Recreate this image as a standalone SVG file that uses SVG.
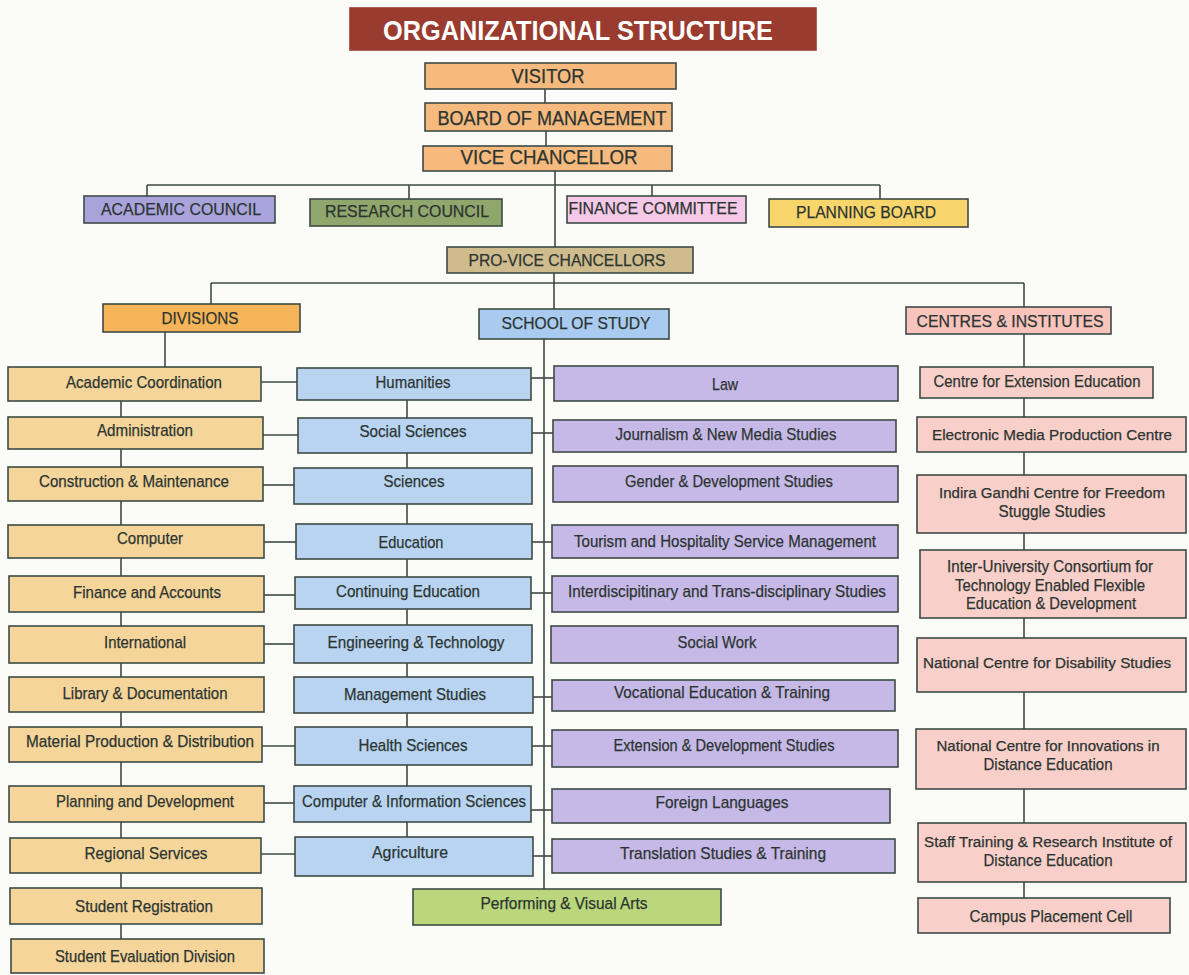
<svg xmlns="http://www.w3.org/2000/svg" width="1189" height="975" viewBox="0 0 1189 975">
<style>
.bg{fill:#fbfbf8}
rect{stroke:#3e4a45;stroke-width:1.6}
.title{fill:#9a3b30;stroke:#9a3b30}
.top{fill:#f6ba7e}
.ac{fill:#a9a3dc}
.rc{fill:#8fa66c}
.fc{fill:#f6c9e8}
.pb{fill:#f8d66c}
.pvc{fill:#cfbc8e}
.div{fill:#f7b458}
.sos{fill:#a9cbef}
.ci{fill:#f8c4bc}
.l{fill:#f5d59a}
.b{fill:#b8d4f1}
.p{fill:#c6b9e7}
.k{fill:#f9d0c9}
.g{fill:#bad77c}
text{font-family:"Liberation Sans",Arial,sans-serif;fill:#2c3431;text-anchor:middle;stroke:#2c3431;stroke-width:0.25}
.h{font-size:20px}
.s{font-size:17px}
.n{font-size:14px}
.t{font-size:28px;font-weight:bold;fill:#ffffff;stroke:none}
#connectors line{stroke:#3e4a45;stroke-width:1.6}
</style>
<rect class="bg" x="0" y="0" width="1189" height="975" style="stroke:none"/>
<g id="connectors">
<line x1="545" y1="89" x2="545" y2="103"/>
<line x1="546" y1="131" x2="546" y2="146"/>
<line x1="555" y1="171" x2="555" y2="247"/>
<line x1="147" y1="185" x2="880" y2="185"/>
<line x1="147" y1="185" x2="147" y2="196"/>
<line x1="409" y1="185" x2="409" y2="199"/>
<line x1="652" y1="185" x2="652" y2="196"/>
<line x1="880" y1="185" x2="880" y2="199"/>
<line x1="554" y1="273" x2="554" y2="309"/>
<line x1="211" y1="283" x2="1024" y2="283"/>
<line x1="211" y1="283" x2="211" y2="304"/>
<line x1="1024" y1="283" x2="1024" y2="307"/>
<line x1="165" y1="332" x2="165" y2="367"/>
<line x1="121" y1="401" x2="121" y2="939"/>
<line x1="407" y1="400" x2="407" y2="837"/>
<line x1="544" y1="339" x2="544" y2="889"/>
<line x1="1024" y1="334" x2="1024" y2="898"/>
<line x1="261" y1="382" x2="297" y2="382"/>
<line x1="263" y1="435" x2="298" y2="435"/>
<line x1="263" y1="485" x2="294" y2="485"/>
<line x1="264" y1="542" x2="296" y2="542"/>
<line x1="264" y1="595" x2="295" y2="595"/>
<line x1="264" y1="644" x2="294" y2="644"/>
<line x1="262" y1="746" x2="295" y2="746"/>
<line x1="264" y1="803" x2="294" y2="803"/>
<line x1="261" y1="854" x2="295" y2="854"/>
<line x1="531" y1="378" x2="554" y2="378"/>
<line x1="532" y1="433" x2="553" y2="433"/>
<line x1="532" y1="542" x2="552" y2="542"/>
<line x1="531" y1="593" x2="552" y2="593"/>
<line x1="533" y1="697" x2="552" y2="697"/>
<line x1="532" y1="746" x2="552" y2="746"/>
<line x1="531" y1="810" x2="552" y2="810"/>
<line x1="533" y1="856" x2="552" y2="856"/>
</g>
<g id="title"><rect class="title" x="350" y="8" width="466" height="42"/><text class="t" x="578" y="40" textLength="390" lengthAdjust="spacingAndGlyphs">ORGANIZATIONAL STRUCTURE</text></g>
<g id="visitor"><rect class="top" x="425" y="63" width="251" height="26"/><text class="h" x="548" y="83" textLength="73" lengthAdjust="spacingAndGlyphs">VISITOR</text></g>
<g id="board"><rect class="top" x="425" y="103" width="247" height="28"/><text class="h" x="552" y="125" textLength="229" lengthAdjust="spacingAndGlyphs">BOARD OF MANAGEMENT</text></g>
<g id="vc"><rect class="top" x="423" y="146" width="249" height="25"/><text class="h" x="549" y="164" textLength="177" lengthAdjust="spacingAndGlyphs">VICE  CHANCELLOR</text></g>
<g id="academic-council"><rect class="ac" x="84" y="196" width="191" height="27"/><text class="s" x="181" y="215" textLength="160" lengthAdjust="spacingAndGlyphs">ACADEMIC COUNCIL</text></g>
<g id="research-council"><rect class="rc" x="310" y="199" width="192" height="27"/><text class="s" x="407" y="217" textLength="164" lengthAdjust="spacingAndGlyphs">RESEARCH COUNCIL</text></g>
<g id="finance-committee"><rect class="fc" x="567" y="196" width="179" height="27"/><text class="s" x="653" y="214" textLength="169" lengthAdjust="spacingAndGlyphs">FINANCE  COMMITTEE</text></g>
<g id="planning-board"><rect class="pb" x="769" y="199" width="199" height="28"/><text class="s" x="866" y="218" textLength="140" lengthAdjust="spacingAndGlyphs">PLANNING BOARD</text></g>
<g id="pvc"><rect class="pvc" x="447" y="247" width="246" height="26"/><text class="s" x="567" y="266" textLength="197" lengthAdjust="spacingAndGlyphs">PRO-VICE CHANCELLORS</text></g>
<g id="divisions"><rect class="div" x="103" y="304" width="197" height="28"/><text class="s" x="200" y="324" textLength="77" lengthAdjust="spacingAndGlyphs">DIVISIONS</text></g>
<g id="school"><rect class="sos" x="479" y="309" width="190" height="30"/><text class="s" x="576" y="329" textLength="149" lengthAdjust="spacingAndGlyphs">SCHOOL OF STUDY</text></g>
<g id="centres"><rect class="ci" x="906" y="307" width="205" height="27"/><text class="s" x="1010" y="327" textLength="187" lengthAdjust="spacingAndGlyphs">CENTRES &amp; INSTITUTES</text></g>

<g id="d1"><rect class="l" x="8" y="367" width="253" height="34"/><text class="s" x="144" y="388" textLength="156" lengthAdjust="spacingAndGlyphs">Academic Coordination</text></g>
<g id="d2"><rect class="l" x="8" y="417" width="255" height="32"/><text class="s" x="145" y="436" textLength="96" lengthAdjust="spacingAndGlyphs">Administration</text></g>
<g id="d3"><rect class="l" x="8" y="467" width="255" height="34"/><text class="s" x="134" y="487" textLength="190" lengthAdjust="spacingAndGlyphs">Construction &amp; Maintenance</text></g>
<g id="d4"><rect class="l" x="8" y="525" width="256" height="33"/><text class="s" x="150" y="544" textLength="66" lengthAdjust="spacingAndGlyphs">Computer</text></g>
<g id="d5"><rect class="l" x="9" y="576" width="255" height="36"/><text class="s" x="147" y="598" textLength="148" lengthAdjust="spacingAndGlyphs">Finance and Accounts</text></g>
<g id="d6"><rect class="l" x="9" y="626" width="255" height="37"/><text class="s" x="145" y="648" textLength="82" lengthAdjust="spacingAndGlyphs">International</text></g>
<g id="d7"><rect class="l" x="9" y="677" width="255" height="35"/><text class="s" x="145" y="699" textLength="165" lengthAdjust="spacingAndGlyphs">Library &amp; Documentation</text></g>
<g id="d8"><rect class="l" x="9" y="727" width="253" height="35"/><text class="s" x="140" y="747" textLength="228" lengthAdjust="spacingAndGlyphs">Material Production &amp; Distribution</text></g>
<g id="d9"><rect class="l" x="9" y="786" width="255" height="36"/><text class="s" x="145" y="807" textLength="178" lengthAdjust="spacingAndGlyphs">Planning and Development</text></g>
<g id="d10"><rect class="l" x="10" y="838" width="251" height="35"/><text class="s" x="146" y="859" textLength="123" lengthAdjust="spacingAndGlyphs">Regional Services</text></g>
<g id="d11"><rect class="l" x="10" y="888" width="252" height="36"/><text class="s" x="144" y="912" textLength="138" lengthAdjust="spacingAndGlyphs">Student Registration</text></g>
<g id="d12"><rect class="l" x="11" y="939" width="253" height="34"/><text class="s" x="145" y="962" textLength="180" lengthAdjust="spacingAndGlyphs">Student Evaluation Division</text></g>

<g id="s1"><rect class="b" x="297" y="368" width="234" height="32"/><text class="s" x="413" y="388" textLength="75" lengthAdjust="spacingAndGlyphs">Humanities</text></g>
<g id="s2"><rect class="b" x="298" y="418" width="234" height="35"/><text class="s" x="413" y="437" textLength="107" lengthAdjust="spacingAndGlyphs">Social Sciences</text></g>
<g id="s3"><rect class="b" x="294" y="468" width="238" height="36"/><text class="s" x="414" y="487" textLength="61" lengthAdjust="spacingAndGlyphs">Sciences</text></g>
<g id="s4"><rect class="b" x="296" y="524" width="236" height="35"/><text class="s" x="411" y="548" textLength="65" lengthAdjust="spacingAndGlyphs">Education</text></g>
<g id="s5"><rect class="b" x="295" y="577" width="236" height="32"/><text class="s" x="408" y="597" textLength="144" lengthAdjust="spacingAndGlyphs">Continuing Education</text></g>
<g id="s6"><rect class="b" x="294" y="625" width="238" height="38"/><text class="s" x="416" y="648" textLength="177" lengthAdjust="spacingAndGlyphs">Engineering &amp; Technology</text></g>
<g id="s7"><rect class="b" x="294" y="677" width="239" height="36"/><text class="s" x="415" y="700" textLength="142" lengthAdjust="spacingAndGlyphs">Management Studies</text></g>
<g id="s8"><rect class="b" x="295" y="727" width="237" height="38"/><text class="s" x="413" y="751" textLength="109" lengthAdjust="spacingAndGlyphs">Health Sciences</text></g>
<g id="s9"><rect class="b" x="294" y="786" width="237" height="36"/><text class="s" x="414" y="807" textLength="224" lengthAdjust="spacingAndGlyphs">Computer &amp; Information Sciences</text></g>
<g id="s10"><rect class="b" x="295" y="837" width="238" height="39"/><text class="s" x="410" y="858" textLength="76" lengthAdjust="spacingAndGlyphs">Agriculture</text></g>

<g id="p1"><rect class="p" x="554" y="366" width="344" height="35"/><text class="s" x="725" y="390" textLength="26" lengthAdjust="spacingAndGlyphs">Law</text></g>
<g id="p2"><rect class="p" x="553" y="420" width="343" height="32"/><text class="s" x="726" y="440" textLength="221" lengthAdjust="spacingAndGlyphs">Journalism &amp; New Media Studies</text></g>
<g id="p3"><rect class="p" x="553" y="466" width="345" height="36"/><text class="s" x="729" y="487" textLength="208" lengthAdjust="spacingAndGlyphs">Gender &amp; Development Studies</text></g>
<g id="p4"><rect class="p" x="552" y="525" width="346" height="33"/><text class="s" x="725" y="547" textLength="302" lengthAdjust="spacingAndGlyphs">Tourism and Hospitality Service Management</text></g>
<g id="p5"><rect class="p" x="552" y="576" width="346" height="36"/><text class="s" x="727" y="597" textLength="318" lengthAdjust="spacingAndGlyphs">Interdiscipitinary and Trans-disciplinary Studies</text></g>
<g id="p6"><rect class="p" x="551" y="626" width="347" height="37"/><text class="s" x="717" y="648" textLength="79" lengthAdjust="spacingAndGlyphs">Social Work</text></g>
<g id="p7"><rect class="p" x="552" y="680" width="343" height="31"/><text class="s" x="722" y="698" textLength="216" lengthAdjust="spacingAndGlyphs">Vocational Education &amp; Training</text></g>
<g id="p8"><rect class="p" x="552" y="730" width="346" height="37"/><text class="s" x="724" y="751" textLength="221" lengthAdjust="spacingAndGlyphs">Extension &amp; Development Studies</text></g>
<g id="p9"><rect class="p" x="552" y="789" width="338" height="34"/><text class="s" x="722" y="808" textLength="133" lengthAdjust="spacingAndGlyphs">Foreign Languages</text></g>
<g id="p10"><rect class="p" x="552" y="839" width="343" height="34"/><text class="s" x="723" y="859" textLength="206" lengthAdjust="spacingAndGlyphs">Translation Studies &amp; Training</text></g>
<g id="p11"><rect class="g" x="413" y="889" width="308" height="36"/><text class="s" x="564" y="909" textLength="167" lengthAdjust="spacingAndGlyphs">Performing &amp; Visual Arts</text></g>

<g id="c1"><rect class="k" x="920" y="367" width="233" height="31"/><text class="s" x="1037" y="387" textLength="207" lengthAdjust="spacingAndGlyphs">Centre for Extension Education</text></g>
<g id="c2"><rect class="k" x="917" y="417" width="269" height="35"/><text class="n" x="1052" y="440" textLength="240" lengthAdjust="spacingAndGlyphs">Electronic Media Production Centre</text></g>
<g id="c3"><rect class="k" x="917" y="475" width="269" height="58"/><text class="n" x="1052" y="498" textLength="226" lengthAdjust="spacingAndGlyphs">Indira Gandhi Centre for Freedom</text><text class="s" x="1052" y="517" textLength="107" lengthAdjust="spacingAndGlyphs">Stuggle Studies</text></g>
<g id="c4"><rect class="k" x="920" y="550" width="266" height="68"/><text class="s" x="1050" y="572" textLength="206" lengthAdjust="spacingAndGlyphs">Inter-University Consortium for</text><text class="s" x="1050" y="591" textLength="190" lengthAdjust="spacingAndGlyphs">Technology Enabled Flexible</text><text class="s" x="1051" y="609" textLength="170" lengthAdjust="spacingAndGlyphs">Education &amp; Development</text></g>
<g id="c5"><rect class="k" x="917" y="638" width="269" height="54"/><text class="n" x="1047" y="668" textLength="248" lengthAdjust="spacingAndGlyphs">National Centre for Disability Studies</text></g>
<g id="c6"><rect class="k" x="916" y="729" width="270" height="60"/><text class="n" x="1048" y="751" textLength="223" lengthAdjust="spacingAndGlyphs">National Centre for Innovations in</text><text class="s" x="1048" y="770" textLength="129" lengthAdjust="spacingAndGlyphs">Distance Education</text></g>
<g id="c7"><rect class="k" x="918" y="823" width="268" height="59"/><text class="n" x="1048" y="847" textLength="248" lengthAdjust="spacingAndGlyphs">Staff Training &amp; Research Institute of</text><text class="s" x="1048" y="866" textLength="129" lengthAdjust="spacingAndGlyphs">Distance Education</text></g>
<g id="c8"><rect class="k" x="918" y="898" width="252" height="35"/><text class="s" x="1051" y="922" textLength="163" lengthAdjust="spacingAndGlyphs">Campus Placement Cell</text></g>
</svg>
